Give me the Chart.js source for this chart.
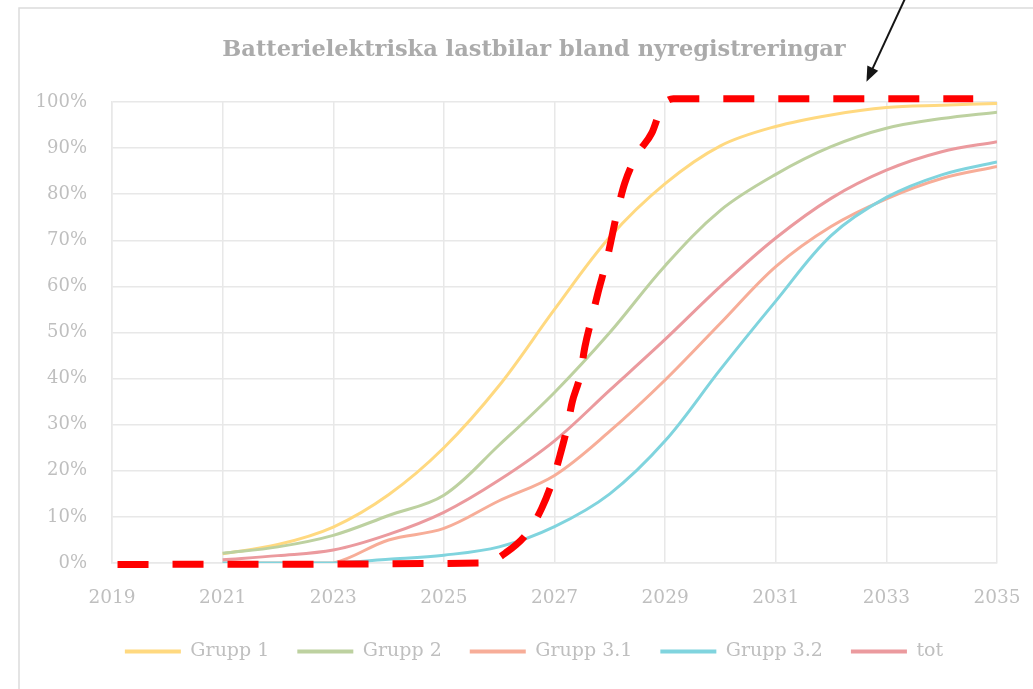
<!DOCTYPE html>
<html><head><meta charset="utf-8">
<script src="https://cdn.jsdelivr.net/npm/chart.js@4.4.1/dist/chart.umd.min.js"></script>
<style>html,body{margin:0;padding:0;background:#fff;overflow:hidden}#wrap{width:1033px;height:689px;position:relative}</style>
</head><body><div id="wrap"><canvas id="c"></canvas></div>
<script>
const titleText = 'Batterielektriska lastbilar bland nyregistreringar';
const years = [2021,2022,2023,2024,2025,2026,2027,2028,2029,2030,2031,2032,2033,2034,2035];
const seriesNames = ['Grupp 1','Grupp 2','Grupp 3.1','Grupp 3.2','tot'];
const grupp1  = [2.0,4.0,7.8,14.8,25.0,38.5,55.0,70.7,82.3,90.5,94.7,97.2,98.8,99.3,99.7];
const grupp2  = [2.1,3.5,6.0,10.3,14.7,25.6,37.0,50.0,64.5,76.5,84.3,90.3,94.3,96.4,97.8];
const grupp31 = [0.0,0.0,0.0,5.0,7.5,13.5,19.0,28.6,39.7,52.0,64.3,73.0,79.0,83.4,86.0];
const grupp32 = [0.0,0.0,0.0,0.8,1.7,3.5,7.9,15.0,26.5,42.0,56.8,71.0,79.3,84.2,87.0];
const tot     = [0.7,1.6,2.8,6.2,11.0,18.0,26.5,37.5,48.5,60.0,70.5,79.1,85.2,89.2,91.4];
const seriesColors = ['#FFD980','#BDD1A0','#F7AD98','#80D4DE','#EB9A9E'];
// red dashed annotation curve
const redX = [2019.1,2025.75,2026.14,2026.52,2026.77,2026.97,2027.1,2027.23,2027.32,2027.46,2027.55,2027.68,2027.79,2027.95,2028.15,2028.27,2028.49,2028.76,2028.94,2029.15,2034.57];
const redY = [-0.3,0.0,2.4,6.7,11.9,18.0,23.4,29.5,34.9,40.5,46.9,53.4,58.8,66.0,77.0,82.4,88.5,93.3,98.9,100.7,100.7];
const xTickValues = [2019,2021,2023,2025,2027,2029,2031,2033,2035];
const xTickLabels = ['2019','2021','2023','2025','2027','2029','2031','2033','2035'];
const yTickValues = [0,10,20,30,40,50,60,70,80,90,100];
const yTickLabels = ['0%','10%','20%','30%','40%','50%','60%','70%','80%','90%','100%'];
// arrow annotation (data coords)
const arrowFrom = {x: 2033.34, y: 122.5};
const arrowTo = {x: 2032.64, y: 104.4};

const allSeries = [grupp1, grupp2, grupp31, grupp32, tot];
const datasets = allSeries.map((arr, i) => ({
  label: seriesNames[i],
  data: years.map((y, j) => ({x: y, y: arr[j]})),
  borderColor: seriesColors[i],
  backgroundColor: seriesColors[i],
  borderWidth: 3,
  pointRadius: 0,
  tension: 0.35,
  fill: false,
  order: 6 - i
}));
datasets.push({
  label: 'red',
  data: redX.map((x, j) => ({x: x, y: redY[j]})),
  borderColor: '#FF0000',
  backgroundColor: '#FF0000',
  borderWidth: 7,
  borderDash: [31, 24],
  borderCapStyle: 'butt',
  pointRadius: 0,
  cubicInterpolationMode: 'monotone',
  fill: false,
  clip: false,
  order: 0
});

const framePlugin = {
  id: 'frame',
  beforeDraw(chart) {
    const ctx = chart.ctx;
    ctx.save();
    ctx.fillStyle = '#fff';
    ctx.fillRect(0, 0, chart.width, chart.height);
    ctx.strokeStyle = '#dcdcdc';
    ctx.lineWidth = 1.5;
    ctx.strokeRect(19, 8, 3000, 3000);
    ctx.restore();
  },
  afterDraw(chart) {
    const ctx = chart.ctx, xs = chart.scales.x, ys = chart.scales.y;
    const x1 = xs.getPixelForValue(arrowFrom.x), y1 = ys.getPixelForValue(arrowFrom.y);
    const x2 = xs.getPixelForValue(arrowTo.x), y2 = ys.getPixelForValue(arrowTo.y);
    const ang = Math.atan2(y2 - y1, x2 - x1);
    const hl = 15, hw = 6;
    ctx.save();
    ctx.strokeStyle = '#151515';
    ctx.fillStyle = '#151515';
    ctx.lineWidth = 2;
    ctx.beginPath();
    ctx.moveTo(x1, y1);
    ctx.lineTo(x2 - hl * 0.8 * Math.cos(ang), y2 - hl * 0.8 * Math.sin(ang));
    ctx.stroke();
    ctx.beginPath();
    ctx.moveTo(x2, y2);
    ctx.lineTo(x2 - hl * Math.cos(ang) + hw * Math.sin(ang), y2 - hl * Math.sin(ang) - hw * Math.cos(ang));
    ctx.lineTo(x2 - hl * Math.cos(ang) - hw * Math.sin(ang), y2 - hl * Math.sin(ang) + hw * Math.cos(ang));
    ctx.closePath();
    ctx.fill();
    ctx.restore();
  }
};

const labelColor = '#bfbfbf';
const gridColor = '#e8e8e8';
const fontFam = "'DejaVu Serif', serif";

new Chart(document.getElementById('c'), {
  type: 'line',
  data: {datasets},
  plugins: [framePlugin],
  options: {
    responsive: true,
    maintainAspectRatio: false,
    animation: false,
    devicePixelRatio: 1,
    layout: {padding: {left: 35, right: 0, top: 0, bottom: 18}},
    plugins: {
      tooltip: {enabled: false},
      title: {
        display: true,
        text: titleText,
        color: '#ababab',
        font: {family: fontFam, size: 22.5, weight: 'bold'},
        padding: {top: 37, bottom: 38}
      },
      legend: {
        position: 'bottom',
        labels: {
          boxWidth: 56,
          boxHeight: 4,
          padding: 28,
          color: labelColor,
          font: {family: fontFam, size: 19},
          generateLabels(chart) {
            return chart.data.datasets.map((d, i) => ({
              text: d.label, fillStyle: d.borderColor, strokeStyle: d.borderColor,
              lineWidth: 0, hidden: false, datasetIndex: i, fontColor: labelColor
            })).filter(it => it.text !== 'red');
          }
        }
      }
    },
    scales: {
      x: {
        type: 'linear',
        min: 2019, max: 2035,
        afterBuildTicks(s) { s.ticks = xTickValues.map(v => ({value: v})); },
        afterFit(s) { s.height = 51; s.paddingRight = 36; },
        ticks: {
          color: labelColor, padding: 24, maxRotation: 0, autoSkip: false,
          font: {family: fontFam, size: 18.5},
          callback(v) { const k = xTickValues.indexOf(v); return k >= 0 ? xTickLabels[k] : ''; }
        },
        grid: {color: gridColor, lineWidth: 1.5, drawTicks: false},
        border: {color: gridColor, width: 1.5}
      },
      y: {
        min: 0, max: 100,
        afterBuildTicks(s) { s.ticks = yTickValues.map(v => ({value: v})); },
        afterFit(s) { s.width = 77; },
        ticks: {
          color: labelColor, padding: 25,
          font: {family: fontFam, size: 18},
          callback(v) { const k = yTickValues.indexOf(v); return k >= 0 ? yTickLabels[k] : ''; }
        },
        grid: {color: gridColor, lineWidth: 1.5, drawTicks: false},
        border: {color: gridColor, width: 1.5}
      }
    }
  }
});
</script>
</body></html>
